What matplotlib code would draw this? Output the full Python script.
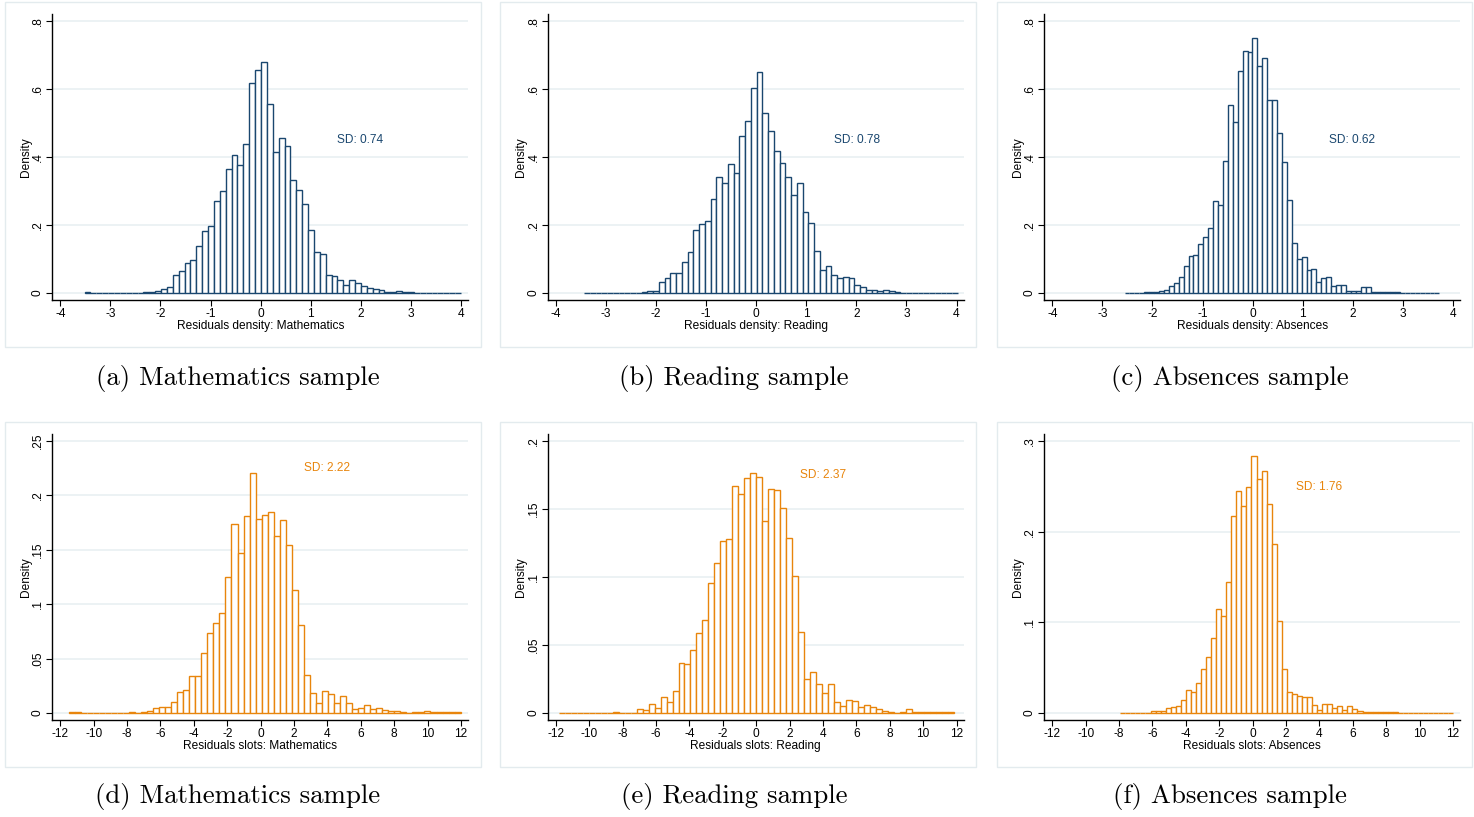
#!/usr/bin/env python3
"""Residual histograms (density / slots) for the three samples, Stata look."""
import numpy as np
import matplotlib
matplotlib.use("Agg")
import matplotlib.pyplot as plt
from matplotlib.patches import Rectangle

# ---- data: bin start, bin width, density per bin ----
a_start, a_width = -3.515, 0.1174
a_dens = [0.002, 0, 0.001, 0.001, 0.001, 0.001, 0.001, 0.001, 0.001, 0.001,
          0.002, 0.003, 0.006, 0.012, 0.019, 0.052, 0.066, 0.087, 0.098, 0.139,
          0.181, 0.196, 0.271, 0.301, 0.366, 0.405, 0.376, 0.438, 0.619, 0.656,
          0.679, 0.556, 0.416, 0.455, 0.432, 0.332, 0.304, 0.262, 0.184, 0.122,
          0.116, 0.054, 0.051, 0.039, 0.025, 0.037, 0.030, 0.021, 0.015, 0.011,
          0.009, 0.004, 0.003, 0.006, 0.004, 0.002, 0.001, 0.001, 0.001, 0.001,
          0.001, 0.001, 0.001, 0.001]

b_start, b_width = -3.435, 0.1148
b_dens = [0.001, 0, 0.001, 0.001, 0.001, 0.001, 0.001, 0.001, 0.001, 0.001,
          0.002, 0.005, 0.007, 0.031, 0.043, 0.060, 0.060, 0.090, 0.120, 0.186,
          0.204, 0.211, 0.277, 0.340, 0.325, 0.379, 0.353, 0.461, 0.507, 0.604,
          0.651, 0.529, 0.476, 0.417, 0.382, 0.342, 0.288, 0.323, 0.239, 0.207,
          0.124, 0.069, 0.079, 0.052, 0.043, 0.047, 0.043, 0.025, 0.017, 0.010,
          0.009, 0.006, 0.010, 0.005, 0.002, 0.001, 0.001, 0.001, 0.001, 0.001,
          0.001, 0.001, 0.001, 0.001, 0.001]

c_start, c_width = -2.557, 0.0982
c_dens = [0.001, 0.001, 0.001, 0.001, 0.002, 0.002, 0.003, 0.006, 0.010, 0.021,
          0.030, 0.047, 0.078, 0.110, 0.113, 0.145, 0.165, 0.190, 0.270, 0.259,
          0.387, 0.554, 0.502, 0.652, 0.711, 0.709, 0.751, 0.667, 0.692, 0.569,
          0.567, 0.470, 0.386, 0.274, 0.147, 0.100, 0.106, 0.069, 0.072, 0.032,
          0.044, 0.047, 0.020, 0.025, 0.023, 0.007, 0.005, 0.007, 0.017, 0.017,
          0.003, 0.003, 0.004, 0.003, 0.004, 0.002, 0.001, 0.001, 0.001, 0.001,
          0.001, 0.001, 0.001, 0.001]

d_start, d_width = -11.50, 0.3612
d_dens = [0.0005, 0.0005, 0, 0.0003, 0.0003, 0.0003, 0.0003, 0.0003, 0.0003, 0.0003,
          0.001, 0.0003, 0.001, 0.002, 0.0046, 0.0058, 0.0058, 0.010, 0.0196, 0.0215,
          0.0343, 0.0343, 0.0555, 0.0736, 0.0825, 0.0923, 0.125, 0.174, 0.147, 0.181,
          0.221, 0.178, 0.182, 0.185, 0.163, 0.177, 0.154, 0.113, 0.0807, 0.035,
          0.018, 0.0095, 0.020, 0.0175, 0.0095, 0.0156, 0.0092, 0.004, 0.0043, 0.0077,
          0.004, 0.0046, 0.003, 0.0015, 0.0018, 0.001, 0.0003, 0.0005, 0.0006, 0.0018,
          0.0006, 0.0006, 0.0006, 0.0006, 0.0006]

e_start, e_width = -11.82, 0.3585
e_dens = [0.0003, 0.0003, 0.0003, 0.0003, 0.0003, 0.0003, 0.0003, 0.0003, 0.0003, 0.0005,
          0.0003, 0.0003, 0.0003, 0.0032, 0.0022, 0.0066, 0.0039, 0.0118, 0.0081, 0.0165,
          0.0364, 0.0357, 0.0462, 0.0585, 0.0681, 0.0957, 0.110, 0.1264, 0.1277, 0.167,
          0.161, 0.1727, 0.1764, 0.1737, 0.1415, 0.1646, 0.164, 0.1508, 0.1287, 0.101,
          0.0598, 0.0253, 0.0298, 0.0216, 0.015, 0.0216, 0.0084, 0.0054, 0.0093, 0.0091,
          0.0044, 0.0059, 0.0044, 0.0027, 0.0017, 0.0008, 0.0003, 0.0008, 0.0032, 0.001,
          0.0008, 0.0004, 0.0004, 0.0004, 0.0004, 0.0004]

f_start, f_width = -7.93, 0.3023
f_dens = [0.0005, 0.0005, 0.0005, 0.0005, 0.0005, 0.0005, 0.0022, 0.0022, 0.0022, 0.0052,
          0.0063, 0.0077, 0.0144, 0.025, 0.0236, 0.0335, 0.0486, 0.0615, 0.0832, 0.115,
          0.1068, 0.145, 0.217, 0.245, 0.228, 0.249, 0.2836, 0.258, 0.267, 0.230,
          0.1864, 0.102, 0.049, 0.0236, 0.0214, 0.0188, 0.0177, 0.018, 0.0092, 0.003,
          0.0103, 0.0096, 0.0055, 0.0077, 0.003, 0.0074, 0.0044, 0.0022, 0.001, 0.0007,
          0.001, 0.0015, 0.0007, 0.001, 0.0007, 0.0005, 0.0005, 0.0005, 0.0005, 0.0005,
          0.0005, 0.0005, 0.0005, 0.0005, 0.0005, 0.0005]

top_xticks = list(range(-4, 5))
bot_xticks = list(range(-12, 13, 2))
yticks_a = [0, 0.2, 0.4, 0.6, 0.8]
yticks_d = [0, 0.05, 0.1, 0.15, 0.2, 0.25]
yticks_e = [0, 0.05, 0.1, 0.15, 0.2]
yticks_f = [0, 0.1, 0.2, 0.3]

sd_labels = ["SD: 0.74", "SD: 0.78", "SD: 0.62", "SD: 2.22", "SD: 2.37", "SD: 1.76"]
xlabels = ["Residuals density: Mathematics", "Residuals density: Reading",
           "Residuals density: Absences", "Residuals slots: Mathematics",
           "Residuals slots: Reading", "Residuals slots: Absences"]
captions = ["(a) Mathematics sample", "(b) Reading sample", "(c) Absences sample",
            "(d) Mathematics sample", "(e) Reading sample", "(f) Absences sample"]

NAVY = "#1a476f"
ORANGE = "#e8850c"
GRID = "#e9f0f2"
W, H = 1474, 817

plt.rcParams["font.family"] = ["Liberation Sans", "DejaVu Sans"]


def fig_rect(x0, y0, x1, y1):
    # pixel box (top-left origin) -> figure fraction rect
    return [x0 / W, 1 - y1 / H, (x1 - x0) / W, (y1 - y0) / H]


def ytick_fmt(v):
    if v == 0:
        return "0"
    s = f"{v:g}"
    return s.lstrip("0") if s.startswith("0") else s


def draw_panel(fig, px, py, start, width, dens, color, xticks, yticks, sd_text,
               sd_pos, xlabel):
    ax = fig.add_axes(fig_rect(px, py, px + 416, py + 286))
    ax.patch.set_alpha(0)
    dens = np.asarray(dens)
    edges = start + width * np.arange(len(dens))
    ax.bar(edges, dens, width=width, align="edge", facecolor="white",
           edgecolor=color, linewidth=1.0, zorder=3)

    ymax = yticks[-1]
    ax.set_ylim(-ymax * 7 / 272, ymax * (1 + 7 / 272))
    span = xticks[-1] - xticks[0]
    ax.set_xlim(xticks[0] - span * 8 / 401, xticks[-1] + span * 7.3 / 401)

    ax.set_yticks(yticks)
    ax.set_yticklabels([ytick_fmt(v) for v in yticks], rotation=90, va="center")
    ax.set_xticks(xticks)
    ax.set_xticklabels([str(v) for v in xticks])
    ax.tick_params(direction="out", length=4, width=0.8, labelsize=8.6, pad=2,
                   colors="black")
    ax.grid(axis="y", color=GRID, linewidth=1.2, zorder=0)
    for s in ("top", "right"):
        ax.spines[s].set_visible(False)
    for s in ("left", "bottom"):
        ax.spines[s].set_linewidth(1.0)

    ax.set_ylabel("Density", fontsize=8.6, labelpad=0)
    ax.set_xlabel(xlabel, fontsize=8.6, labelpad=-0.5)
    ax.text(sd_pos[0], sd_pos[1], sd_text, color=color, fontsize=8.6,
            ha="left", va="center", zorder=4)
    return ax


fig = plt.figure(figsize=(W / 100, H / 100), dpi=100)

# panel frames (outline only, behind the axes)
box_x = [(5, 481), (500, 976), (997, 1472)]
box_y = [(2, 347), (422, 767)]
for (y0, y1) in box_y:
    for (x0, x1) in box_x:
        fig.patches.append(Rectangle((x0 / W, 1 - y1 / H), (x1 - x0) / W,
                                     (y1 - y0) / H, transform=fig.transFigure,
                                     facecolor="none", edgecolor="#e3ebee",
                                     linewidth=1.0, zorder=-1))

ax_x = [52.3, 547.8, 1044.3]
panels = [
    (ax_x[0], 14, a_start, a_width, a_dens, NAVY, top_xticks, yticks_a, (1.53, 0.45)),
    (ax_x[1], 14, b_start, b_width, b_dens, NAVY, top_xticks, yticks_a, (1.55, 0.45)),
    (ax_x[2], 14, c_start, c_width, c_dens, NAVY, top_xticks, yticks_a, (1.53, 0.45)),
    (ax_x[0], 434, d_start, d_width, d_dens, ORANGE, bot_xticks, yticks_d, (2.6, 0.225)),
    (ax_x[1], 434, e_start, e_width, e_dens, ORANGE, bot_xticks, yticks_e, (2.63, 0.175)),
    (ax_x[2], 434, f_start, f_width, f_dens, ORANGE, bot_xticks, yticks_f, (2.6, 0.249)),
]
for i, (px, py, st, wd, dn, col, xt, yt, pos) in enumerate(panels):
    draw_panel(fig, px, py, st, wd, dn, col, xt, yt, sd_labels[i], pos, xlabels[i])

cap_x = [238, 734, 1230]
cap_y = [378, 797]
for i, cap in enumerate(captions):
    fig.text(cap_x[i % 3] / W, 1 - cap_y[i // 3] / H, cap, fontfamily="cmr10",
             fontsize=19.3, ha="center", va="center")

fig.savefig("out.png", dpi=100)
